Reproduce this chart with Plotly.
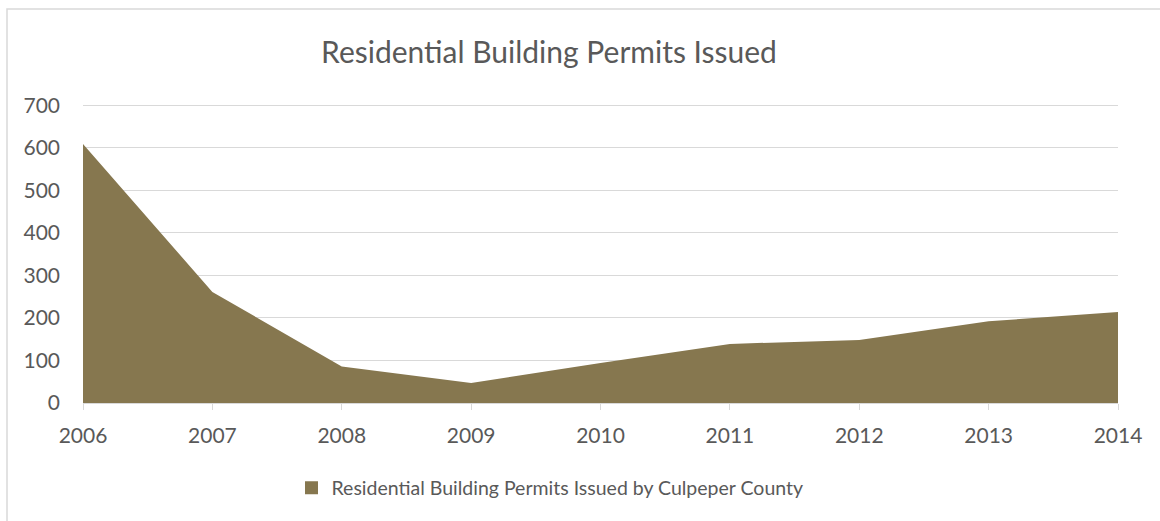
import plotly.graph_objects as go

years = [2006, 2007, 2008, 2009, 2010, 2011, 2012, 2013, 2014]
permits = [609, 261, 86, 47, 94, 139, 148, 192, 214]
series_name = "Residential Building Permits Issued by Culpeper County"
title_text = "Residential Building Permits Issued"
y_ticks = [0, 100, 200, 300, 400, 500, 600, 700]

fill_color = "#86774F"
text_color = "#595959"
grid_color = "#D9D9D9"
font_family = "Lato, 'Open Sans', sans-serif"

fig = go.Figure()
fig.add_trace(go.Scatter(
    x=years, y=permits, name=series_name,
    mode="lines", fill="tozeroy",
    line=dict(width=0, color=fill_color),
    fillcolor=fill_color,
    showlegend=False,
    hoverinfo="x+y",
))
# legend-only entry (square swatch)
fig.add_trace(go.Scatter(
    x=[None], y=[None], name=series_name, mode="markers",
    marker=dict(symbol="square", size=13, color=fill_color),
    showlegend=True,
))

W, H = 1160, 521
L, R, T, B = 83, 42, 104, 118
pw = W - L - R
ph = H - T - B

def px_x(p):
    return (p - L) / pw

def px_y(p):
    return (H - B - p) / ph

fig.update_layout(
    width=W, height=H,
    margin=dict(l=L, r=R, t=T, b=B, pad=0),
    paper_bgcolor="white", plot_bgcolor="white",
    font=dict(family=font_family, color=text_color, size=20),
    title=dict(text=title_text, x=549 / W, xanchor="center",
               y=1 - 52 / H, yanchor="middle",
               font=dict(size=30, color=text_color, family=font_family)),
    showlegend=True,
    legend=dict(orientation="h", x=px_x(550), xanchor="center",
                y=px_y(488), yanchor="middle",
                font=dict(size=19.5, color=text_color),
                itemwidth=30,
                bgcolor="rgba(0,0,0,0)"),
    xaxis=dict(range=[2006, 2014], tickmode="array", tickvals=years,
               ticktext=[str(y) for y in years],
               showgrid=False, zeroline=False,
               showline=True, linecolor=grid_color, linewidth=1,
               ticks="outside", ticklen=6, tickcolor=grid_color,
               ticklabelstandoff=8,
               tickfont=dict(size=21, color=text_color)),
    yaxis=dict(range=[0, 703], tickmode="array", tickvals=y_ticks,
               showgrid=True, gridcolor=grid_color, gridwidth=1,
               zeroline=False, showline=False, ticks="",
               ticklabelstandoff=22,
               tickfont=dict(size=21, color=text_color)),
    shapes=[dict(type="rect", xref="paper", yref="paper",
                 x0=px_x(7), x1=px_x(1200), y0=px_y(560), y1=px_y(9),
                 line=dict(color=grid_color, width=1.5),
                 fillcolor="rgba(0,0,0,0)", layer="below")],
)

fig.write_html("out.html",
               config={"displayModeBar": False},
               post_script="document.body.style.margin='0px';document.body.style.padding='0px';")
